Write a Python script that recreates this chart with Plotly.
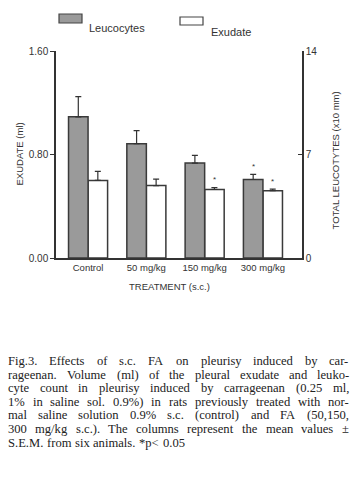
import plotly.graph_objects as go

# ---- data ----
categories = ["Control", "50 mg/kg", "150 mg/kg", "300 mg/kg"]
leucocytes = [9.55, 7.73, 6.42, 5.31]          # right axis (x10 mm)
leucocytes_sem = [1.37, 0.88, 0.52, 0.34]
exudate = [0.60, 0.56, 0.53, 0.52]             # left axis (ml)
exudate_sem = [0.07, 0.05, 0.015, 0.012]
leuco_sig = [False, False, False, True]
exudate_sig = [False, False, True, True]

left_ticks = [0, 0.8, 1.6]
left_ticktext = ["0.00", "0.80", "1.60"]
right_ticks = [0, 7, 14]
right_ticktext = ["0", "7", "14"]

caption_lines = [
    "Fig.3. Effects of s.c. FA on pleurisy induced by car-",
    "rageenan. Volume (ml) of the pleural exudate and leuko-",
    "cyte count in pleurisy induced by carrageenan (0.25 ml,",
    "1% in saline sol. 0.9%) in rats previously treated with nor-",
    "mal saline solution 0.9% s.c. (control) and FA (50,150,",
    "300 mg/kg s.c.). The columns represent the mean values ±",
    "S.E.M. from six animals. *p< 0.05",
]

# ---- geometry (page pixels) ----
W, H = 351, 488
L, R, T, B = 56, 302, 51, 258
def px(x):
    return (x - L) / (R - L)
def py(y):
    return (B - y) / (B - T)

SANS = "Liberation Sans, Arial, sans-serif"
SERIF = "Liberation Serif, Times New Roman, serif"
AX = "#333333"
GRAY = "#9a9a9a"

# Times / Liberation Serif advance widths (per 1000 em) for text layout
TW = {" ": 250, "!": 333, "%": 833, "(": 333, ")": 333, "*": 500, "+": 564, ",": 250, "-": 333,
      ".": 250, "/": 278, ":": 278, ";": 278, "<": 564, "=": 564, ">": 564, "±": 564,
      "A": 722, "B": 667, "C": 667, "D": 722, "E": 611, "F": 556, "G": 722, "H": 722, "I": 333,
      "J": 389, "K": 722, "L": 611, "M": 889, "N": 722, "O": 722, "P": 556, "Q": 722, "R": 667,
      "S": 556, "T": 611, "U": 722, "V": 722, "W": 944, "X": 722, "Y": 722, "Z": 611,
      "a": 444, "b": 500, "c": 444, "d": 500, "e": 444, "f": 333, "g": 500, "h": 500, "i": 278,
      "j": 278, "k": 500, "l": 278, "m": 778, "n": 500, "o": 500, "p": 500, "q": 500, "r": 333,
      "s": 389, "t": 278, "u": 500, "v": 500, "w": 722, "x": 500, "y": 500, "z": 444}
def text_w(s, size):
    return sum(TW.get(c, 500) for c in s) * size / 1000.0

fig = go.Figure()
fig.add_trace(go.Bar(
    x=categories, y=leucocytes, yaxis="y2", offsetgroup="1", name="Leucocytes",
    marker=dict(color=GRAY, line=dict(color="#3a3a3a", width=1.5)),
    error_y=dict(type="data", symmetric=False, array=leucocytes_sem,
                 arrayminus=[0] * len(leucocytes_sem),
                 color="#333", thickness=1.2, width=3),
))
fig.add_trace(go.Bar(
    x=categories, y=exudate, yaxis="y", offsetgroup="2", name="Exudate",
    marker=dict(color="white", line=dict(color="#3a3a3a", width=1.5)),
    error_y=dict(type="data", symmetric=False, array=exudate_sem,
                 arrayminus=[0] * len(exudate_sem),
                 color="#333", thickness=1.2, width=3),
))

annotations = []
# significance marks
for i, s in enumerate(leuco_sig):
    if s:
        annotations.append(dict(x=i - 0.17, y=leucocytes[i] + leucocytes_sem[i], xref="x", yref="y2",
                                text="*", showarrow=False, yshift=8,
                                font=dict(family=SANS, size=8, color="#333")))
for i, s in enumerate(exudate_sig):
    if s:
        annotations.append(dict(x=i + 0.17, y=exudate[i] + exudate_sem[i], xref="x", yref="y",
                                text="*", showarrow=False, yshift=8,
                                font=dict(family=SANS, size=8, color="#333")))

# axis titles
annotations.append(dict(x=px(169), y=py(294), xref="paper", yref="paper", text="TREATMENT (s.c.)",
                        showarrow=False, font=dict(family=SANS, size=9.5, color="#333")))
annotations.append(dict(x=px(11), y=py(154), xref="paper", yref="paper", text="EXUDATE (ml)",
                        textangle=-90, showarrow=False, font=dict(family=SANS, size=9.5, color="#333")))
annotations.append(dict(x=px(342), y=py(161), xref="paper", yref="paper", text="TOTAL LEUCOTYTES (x10 mm)",
                        textangle=-90, showarrow=False, font=dict(family=SANS, size=9.5, color="#333")))

# legend
annotations.append(dict(x=px(87), y=py(20), xref="paper", yref="paper", text="Leucocytes",
                        xanchor="left", showarrow=False, font=dict(family=SANS, size=11, color="#333")))
annotations.append(dict(x=px(209), y=py(24), xref="paper", yref="paper", text="Exudate",
                        xanchor="left", showarrow=False, font=dict(family=SANS, size=11, color="#333")))
shapes = [
    dict(type="rect", xref="paper", yref="paper", x0=px(59), x1=px(82), y0=py(23), y1=py(14),
         fillcolor=GRAY, line=dict(color="#444", width=1.2)),
    dict(type="rect", xref="paper", yref="paper", x0=px(180), x1=px(203), y0=py(25), y1=py(17),
         fillcolor="white", line=dict(color="#444", width=1.2)),
]

# caption: justified lines (last line left-aligned), placed word by word
CAP_SIZE = 12.6
CAP_X0, CAP_X1 = 7, 348
CAP_Y0, CAP_DY = 361, 13.6
for k, line in enumerate(caption_lines):
    yk = py(CAP_Y0 + k * CAP_DY)
    words = line.split(" ")
    widths = [text_w(w, CAP_SIZE) for w in words]
    last = (k == len(caption_lines) - 1)
    if last or len(words) < 2:
        gap = text_w(" ", CAP_SIZE) * 1.15
    else:
        gap = (CAP_X1 - CAP_X0 - sum(widths)) / (len(words) - 1)
    xcur = CAP_X0
    for w, wd in zip(words, widths):
        annotations.append(dict(x=px(xcur), y=yk, xref="paper", yref="paper", text=w,
                                xanchor="left", yanchor="middle", showarrow=False, borderpad=0,
                                font=dict(family=SERIF, size=CAP_SIZE, color="#222")))
        xcur += wd + gap

fig.update_layout(
    width=W, height=H, autosize=False,
    margin=dict(l=L, r=W - R, t=T, b=H - B, pad=0),
    paper_bgcolor="white", plot_bgcolor="white",
    showlegend=False, barmode="group", bargap=0.33, bargroupgap=0,
    xaxis=dict(type="category", range=[-0.55, 3.67], showline=True, linecolor=AX, linewidth=1.5,
               ticks="", showgrid=False, zeroline=False,
               tickfont=dict(family=SANS, size=9.5, color="#333")),
    yaxis=dict(range=[0, 1.6], tickvals=left_ticks, ticktext=left_ticktext, showline=True,
               linecolor=AX, linewidth=1.5, ticks="outside", ticklen=4, tickcolor=AX,
               showgrid=False, zeroline=False, tickfont=dict(family=SANS, size=10, color="#333")),
    yaxis2=dict(range=[0, 14], tickvals=right_ticks, ticktext=right_ticktext, overlaying="y", side="right",
                showline=True, linecolor=AX, linewidth=1.5, ticks="inside", ticklen=4, tickcolor=AX,
                showgrid=False, zeroline=False, tickfont=dict(family=SANS, size=10, color="#333")),
    annotations=annotations, shapes=shapes,
)

fig.write_html("out.html", config={"displayModeBar": False},
               post_script="document.body.style.margin='0';document.body.style.overflow='hidden';")
